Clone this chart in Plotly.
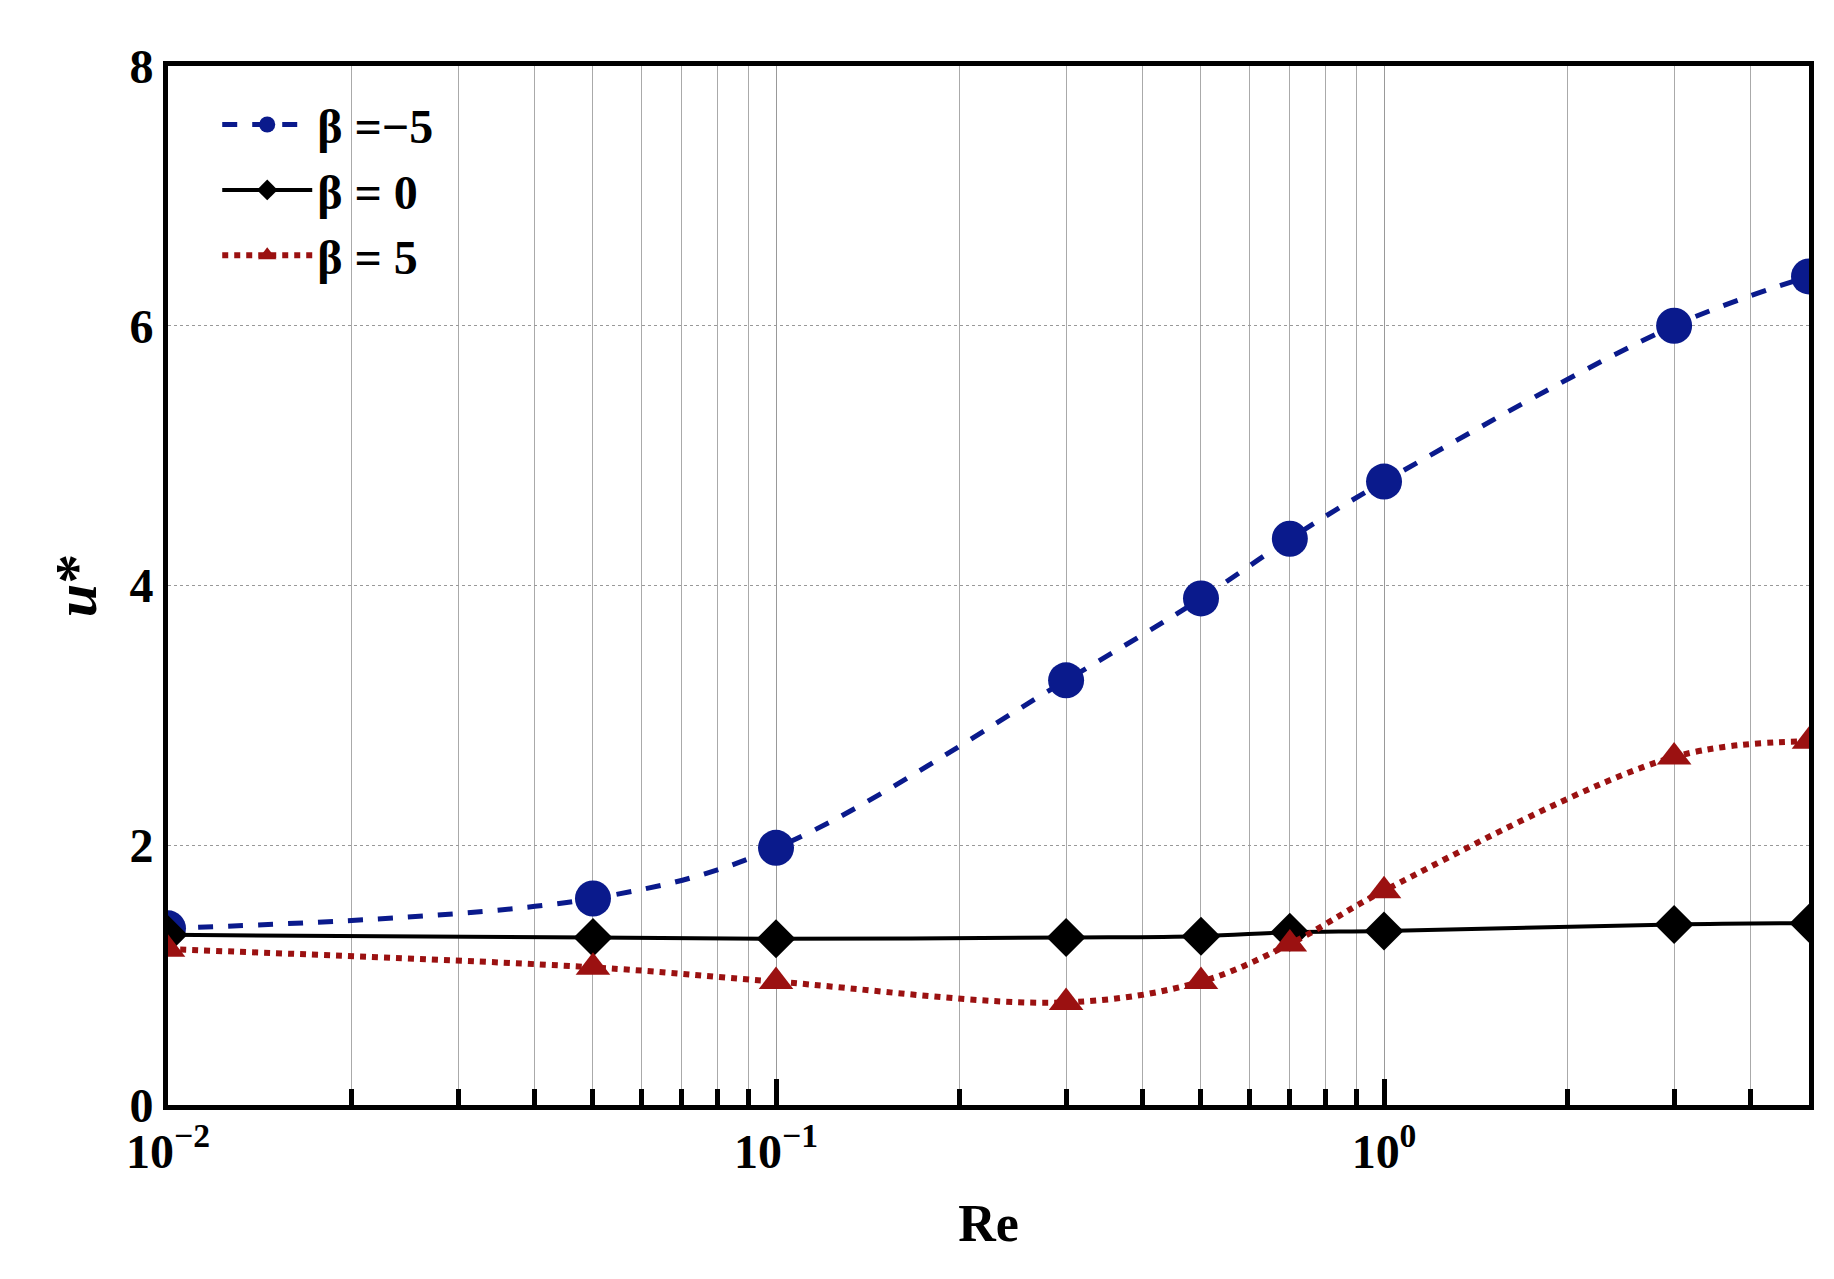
import plotly.graph_objects as go

re_vals = [0.01, 0.05, 0.1, 0.3, 0.5, 0.7, 1, 3, 5]
u_beta_m5 = [1.36, 1.59, 1.98, 3.27, 3.9, 4.36, 4.8, 6.0, 6.38]
u_beta_0 = [1.31, 1.29, 1.28, 1.29, 1.3, 1.33, 1.34, 1.39, 1.4]
u_beta_5 = [1.2, 1.06, 0.95, 0.79, 0.95, 1.24, 1.65, 2.68, 2.8]
names = ["<b>β =−5</b>", "<b>β = 0</b>", "<b>β = 5</b>"]
x_ticks = [0.01, 0.1, 1]
x_ticktext = ["<b>10<sup>−2</sup></b>", "<b>10<sup>−1</sup></b>", "<b>10<sup>0</sup></b>"]
y_ticks = [0, 2, 4, 6, 8]

fig = go.Figure()
fig.add_trace(go.Scatter(x=re_vals, y=u_beta_m5, name=names[0], mode="lines+markers",
                         line=dict(color="#0a1a8c", width=5, dash="dash", shape="spline"),
                         marker=dict(symbol="circle", size=36, color="#0a1a8c")))
fig.add_trace(go.Scatter(x=re_vals, y=u_beta_0, name=names[1], mode="lines+markers",
                         line=dict(color="black", width=4, shape="spline"),
                         marker=dict(symbol="diamond", size=30, color="black")))
fig.add_trace(go.Scatter(x=re_vals, y=u_beta_5, name=names[2], mode="lines+markers",
                         line=dict(color="#9b1111", width=6, dash="dot", shape="spline"),
                         marker=dict(symbol="triangle-up", size=30, color="#9b1111")))

font = dict(family="Liberation Serif", size=44, color="black")
fig.update_layout(
    width=1834, height=1279, plot_bgcolor="white", paper_bgcolor="white",
    margin=dict(l=160, r=33, t=58, b=182),
    font=font,
    legend=dict(x=0.03, y=0.98, bgcolor="rgba(255,255,255,0)", font=dict(size=48, family="Liberation Serif"),
                itemwidth=90, tracegroupgap=20),
)
fig.update_xaxes(type="log", range=[-2, 0.69897], tickvals=x_ticks, ticktext=x_ticktext,
                 showline=True, linecolor="black", linewidth=5, mirror=True,
                 ticks="inside", ticklen=26, tickwidth=5, tickcolor="black",
                 showgrid=True, gridcolor="#999", gridwidth=1,
                 minor=dict(dtick="D1", ticks="inside", ticklen=16, tickwidth=5, tickcolor="black",
                            showgrid=True, gridcolor="#aaa", gridwidth=1),
                 tickfont=dict(size=48, family="Liberation Serif"),
                 title=dict(text="<b>Re</b>", font=dict(size=52), standoff=30))
fig.update_yaxes(range=[0, 8], tickvals=y_ticks, ticktext=[f"<b>{v}</b>" for v in y_ticks],
                 showline=True, linecolor="black", linewidth=5, mirror=True,
                 ticks="", showgrid=True, gridcolor="#999", griddash="dot", gridwidth=1,
                 zeroline=False, tickfont=dict(size=48, family="Liberation Serif"),
                 title=dict(text="<b><i>u</i>*</b>", font=dict(size=60)))
fig.write_html("out.html")
